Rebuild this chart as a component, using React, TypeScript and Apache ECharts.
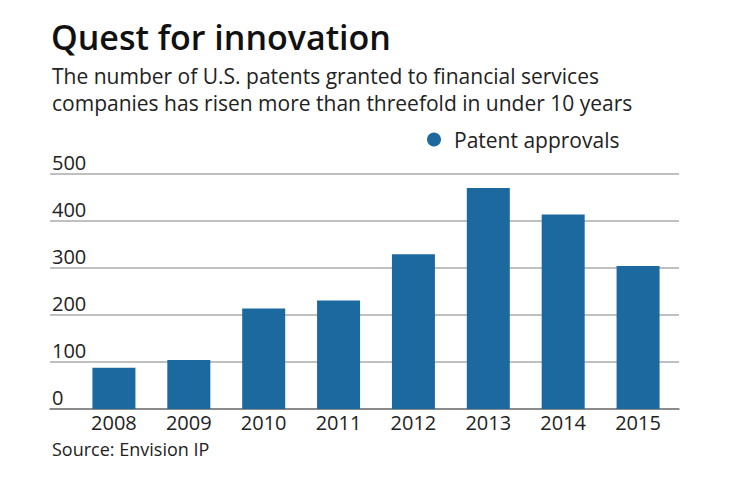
import React, { useEffect, useRef } from "react";
import * as echarts from "echarts";

const years = ["2008", "2009", "2010", "2011", "2012", "2013", "2014", "2015"];
const patentApprovals = [88, 104, 214, 231, 329, 470, 414, 304];
const seriesName = "Patent approvals";
const titleText = "Quest for innovation";
const subtitleLines = [
  "The number of U.S. patents granted to financial services",
  "companies has risen more than threefold in under 10 years",
];
const sourceText = "Source: Envision IP";

const FONT = "'Open Sans'";
const BAR = "#1c69a0";

export default function App() {
  const ref = useRef<HTMLDivElement>(null);
  useEffect(() => {
    if (!ref.current) return;
    const chart = echarts.init(ref.current, null, { renderer: "svg" });
    chart.setOption({
      animation: false,
      backgroundColor: "#ffffff",
      textStyle: { fontFamily: FONT },
      legend: {
        data: [seriesName],
        icon: "circle",
        itemWidth: 30,
        itemHeight: 14,
        left: 422,
        top: 124,
        textStyle: { fontFamily: FONT, fontSize: 21, color: "#222" },
      },
      graphic: [
        {
          type: "text",
          left: 51,
          top: 18,
          style: { text: titleText, font: `600 34px ${FONT}`, lineHeight: 38, fill: "#111" },
        },
        ...subtitleLines.map((line, i) => ({
          type: "text",
          left: 52,
          top: 62 + i * 27,
          style: { text: line, font: `21px ${FONT}`, lineHeight: 27, fill: "#222" },
        })),
        {
          type: "text",
          left: 52,
          top: 440,
          style: { text: sourceText, font: `18px ${FONT}`, fill: "#222" },
        },
      ],
      grid: [
        { left: 76.5, right: 64.5, top: 174, bottom: 73 },
        { left: 50, right: 61, top: 174, bottom: 73 },
      ],
      xAxis: [
        {
          type: "category",
          gridIndex: 0,
          data: years,
          axisLine: { show: false },
          axisTick: { show: false },
          axisLabel: { fontSize: 20, color: "#222", margin: 3, fontFamily: FONT },
        },
        {
          type: "value",
          gridIndex: 1,
          min: 0,
          max: 1,
          axisLine: { show: true, onZero: false, lineStyle: { color: "#7a7a7a", width: 1.5 } },
          axisTick: { show: false },
          axisLabel: { show: false },
          splitLine: { show: false },
        },
      ],
      yAxis: [
        {
          type: "value",
          gridIndex: 0,
          min: 0,
          max: 500,
          interval: 100,
          axisLine: { show: false },
          axisTick: { show: false },
          axisLabel: { show: false },
          splitLine: { show: false },
        },
        {
          type: "value",
          gridIndex: 1,
          min: 0,
          max: 500,
          interval: 100,
          axisLine: { show: false },
          axisTick: { show: false },
          axisLabel: {
            inside: true,
            margin: 2,
            fontSize: 20,
            color: "#222",
            fontFamily: FONT,
            verticalAlign: "bottom",
            padding: [0, 0, 2, 0],
          },
          splitLine: { show: true, lineStyle: { color: "#ababab", width: 1.5 } },
        },
      ],
      series: [
        {
          name: seriesName,
          type: "bar",
          xAxisIndex: 0,
          yAxisIndex: 0,
          data: patentApprovals,
          barWidth: 43,
          itemStyle: { color: BAR },
          z: 5,
        },
      ],
    });
    return () => chart.dispose();
  }, []);
  return (
    <div
      ref={ref}
      style={{ position: "absolute", left: 0, top: 0, width: 740, height: 482 }}
    />
  );
}
